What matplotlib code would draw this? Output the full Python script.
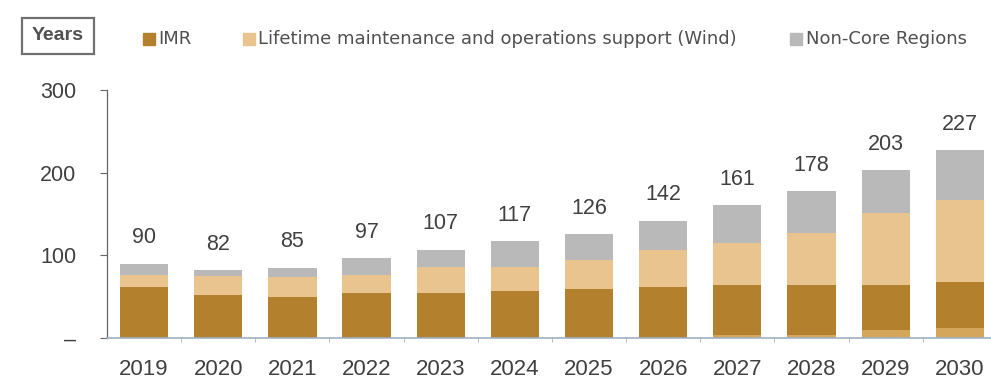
import matplotlib.pyplot as plt
import matplotlib.patches as mpatches
import numpy as np

years = ['2019', '2020', '2021', '2022', '2023', '2024',
         '2025', '2026', '2027', '2028', '2029', '2030']
base_other = [0, 0, 0, 0, 0, 0, 0, 0, 4, 4, 10, 12]
imr = [62, 52, 49, 54, 54, 57, 59, 62, 60, 60, 54, 56]
lifetime_wind = [14, 23, 25, 22, 32, 29, 35, 44, 51, 63, 87, 99]
non_core = [14, 7, 11, 21, 21, 31, 32, 36, 46, 51, 52, 60]

C_OTHER = '#d4a65c'
C_IMR = '#b3812d'
C_WIND = '#e9c48f'
C_GREY = '#b9b9b9'
TXT = '#404040'
NARROW = ['Liberation Sans Narrow', 'Liberation Sans', 'DejaVu Sans']

fig = plt.figure(figsize=(9.91, 3.83), dpi=100)
ax = fig.add_axes([107 / 991, 1 - 338 / 383, 1 - 107 / 991, (338 - 90) / 383])

x = np.arange(len(years))
w = 0.65
bottom = np.zeros(len(years))
for vals, col in [(base_other, C_OTHER), (imr, C_IMR),
                  (lifetime_wind, C_WIND), (non_core, C_GREY)]:
    ax.bar(x, vals, w, bottom=bottom, color=col, edgecolor='none')
    bottom += np.array(vals)

for xi, tot in zip(x, bottom):
    ax.annotate(f'{int(tot)}', (xi, tot), xytext=(0, 11), textcoords='offset points',
                ha='center', va='bottom', fontsize=15.5, color=TXT, family=NARROW)

ax.set_xlim(-0.5, 11.42)
ax.set_ylim(0, 300)
ax.set_yticks([0, 100, 200, 300])
ax.set_yticklabels(['–', '100', '200', '300'])
ax.set_xticks(x)
ax.set_xticklabels(years)
for lab in ax.get_xticklabels():
    lab.set_fontsize(16)
    lab.set_family(NARROW)
    lab.set_color(TXT)
for lab in ax.get_yticklabels():
    lab.set_fontsize(15.5)
    lab.set_family(NARROW)
    lab.set_color(TXT)
ax.tick_params(axis='x', length=0, pad=15)
ax.tick_params(axis='y', length=5, width=0.8, color='#666666', pad=17)
ax.set_xticks(x[:-1] + 0.5, minor=True)
ax.tick_params(axis='x', which='minor', length=3, color='#9fb0c4')

for side in ['top', 'right']:
    ax.spines[side].set_visible(False)
ax.spines['left'].set_color('#666666')
ax.spines['left'].set_linewidth(0.9)
ax.spines['bottom'].set_color('#9fb0c4')
ax.spines['bottom'].set_linewidth(1.2)

# unit box and legend row
fig.text(58 / 991, 1 - 36 / 383, 'Years', ha='center', va='center', fontsize=14,
         fontweight='bold', color='#505050', family='Liberation Sans',
         bbox=dict(boxstyle='square,pad=0.5', facecolor='white',
                   edgecolor='#707070', linewidth=1.6))

legend_items = [('IMR', C_IMR, 143, 158),
                ('Lifetime maintenance and operations support (Wind)', C_WIND, 243, 258),
                ('Non-Core Regions', C_GREY, 790, 806)]
for label, col, sx, tx in legend_items:
    fig.patches.append(mpatches.Rectangle((sx / 991, 1 - 45 / 383), 12 / 991, 12 / 383,
                                          transform=fig.transFigure, color=col))
    fig.text(tx / 991, 1 - 39 / 383, label, ha='left', va='center', fontsize=13,
             color='#505050', family='DejaVu Sans')

fig.savefig('out.png', dpi=100)
